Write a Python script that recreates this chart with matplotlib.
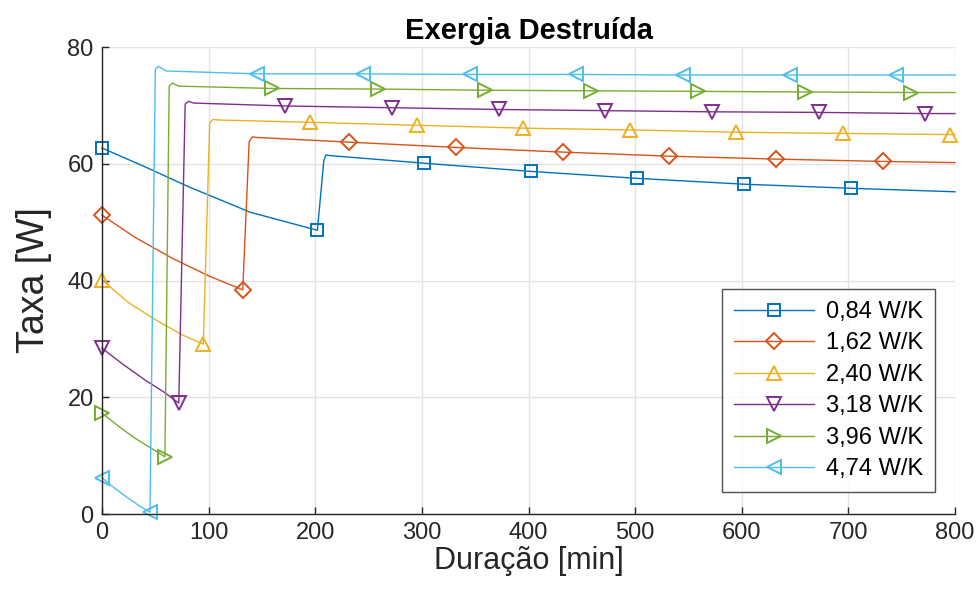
import matplotlib
matplotlib.use("Agg")
import matplotlib.pyplot as plt

plt.rcParams["font.family"] = ["Liberation Sans", "DejaVu Sans"]

# Condutâncias avaliadas (legenda)
labels = ["0,84 W/K", "1,62 W/K", "2,40 W/K", "3,18 W/K", "3,96 W/K", "4,74 W/K"]

# Fase 1: descarga (t, taxa) — marcadores no primeiro e último ponto
carga_t = [
    [0, 40, 82, 139, 202],
    [0, 30, 66, 100, 132],
    [0, 25, 50, 75, 95],
    [0, 20, 40, 58, 72],
    [0, 15, 30, 45, 59],
    [0, 12, 24, 35, 45],
]
carga_y = [
    [62.7, 59.5, 56.0, 51.7, 48.6],
    [51.2, 47.5, 43.8, 40.8, 38.4],
    [40.1, 36.2, 33.3, 30.7, 29.1],
    [28.4, 25.6, 23.0, 20.9, 19.0],
    [17.3, 15.1, 13.1, 11.4, 9.8],
    [6.2, 4.4, 2.8, 1.4, 0.3],
]

# Subida após o mínimo (sem marcadores)
subida_t = [
    [208, 210, 214],
    [138, 141, 146],
    [101, 104, 109],
    [78, 81, 86],
    [63, 66, 72],
    [50, 53, 60],
]
subida_y = [
    [60.5, 61.5, 61.4],
    [63.8, 64.6, 64.5],
    [67.0, 67.6, 67.5],
    [70.2, 70.7, 70.4],
    [73.3, 73.8, 73.3],
    [76.2, 76.7, 75.9],
]

# Patamar: marcadores a cada 100 min a partir do mínimo, último ponto em 800 min
patamar_t = [
    [302, 402, 502, 602, 702, 800],
    [232, 332, 432, 532, 632, 732, 800],
    [195, 295, 395, 495, 595, 695, 795, 800],
    [172, 272, 372, 472, 572, 672, 772, 800],
    [159, 259, 359, 459, 559, 659, 759, 800],
    [145, 245, 345, 445, 545, 645, 745, 800],
]
patamar_y = [
    [60.1, 58.7, 57.5, 56.5, 55.8, 55.2],
    [63.7, 62.8, 62.0, 61.3, 60.8, 60.4, 60.2],
    [67.1, 66.6, 66.1, 65.8, 65.4, 65.2, 65.0, 65.0],
    [69.9, 69.6, 69.3, 69.1, 68.9, 68.8, 68.6, 68.6],
    [72.9, 72.8, 72.6, 72.5, 72.4, 72.3, 72.2, 72.2],
    [75.4, 75.4, 75.3, 75.3, 75.2, 75.2, 75.2, 75.2],
]

cores = ["#0072BD", "#D95319", "#EDB120", "#7E2F8E", "#77AC30", "#4DBEEE"]
marcadores = ["s", "D", "^", "v", ">", "<"]
tamanhos = [9, 8, 10, 10, 10, 10]

fig = plt.figure(figsize=(9.78, 5.99), dpi=100)
ax = fig.add_axes([0.1043, 0.1419, 0.8722, 0.7796])

for i in range(len(labels)):
    t = carga_t[i] + subida_t[i] + patamar_t[i]
    y = carga_y[i] + subida_y[i] + patamar_y[i]
    n1 = len(carga_t[i])
    n2 = n1 + len(subida_t[i])
    marks = [0, n1 - 1] + list(range(n2, len(t) - 1))
    ax.plot(t, y, color=cores[i], lw=1.0, marker=marcadores[i], ms=tamanhos[i],
            mew=1.4, mfc="none", markevery=marks, label=labels[i], clip_on=False)

ax.set_xlim(0, 800)
ax.set_ylim(0, 80)
ax.set_xticks(range(0, 801, 100))
ax.set_yticks(range(0, 81, 20))
ax.grid(True, color="#e3e3e3", lw=1.0)
ax.set_axisbelow(True)
for s in ["top", "right"]:
    ax.spines[s].set_visible(False)
for s in ["left", "bottom"]:
    ax.spines[s].set_color("#262626")
    ax.spines[s].set_linewidth(1.0)
ax.tick_params(direction="in", length=5, width=1.0, colors="#262626",
               labelsize=17, pad=6)

ax.set_title("Exergia Destruída", fontsize=21, fontweight="bold", pad=6)
ax.set_xlabel("Duração [min]", fontsize=22, color="#262626", labelpad=1)
ax.set_ylabel("Taxa [W]", fontsize=27, color="#262626", labelpad=11)

leg = ax.legend(loc="lower right", bbox_to_anchor=(0.9766, 0.047), fontsize=17,
                frameon=True, fancybox=False, edgecolor="#262626",
                handlelength=3.4, labelspacing=0.4, borderpad=0.5,
                handletextpad=0.5, borderaxespad=0)
leg.get_frame().set_linewidth(1.0)

fig.savefig("out.png", dpi=100)
